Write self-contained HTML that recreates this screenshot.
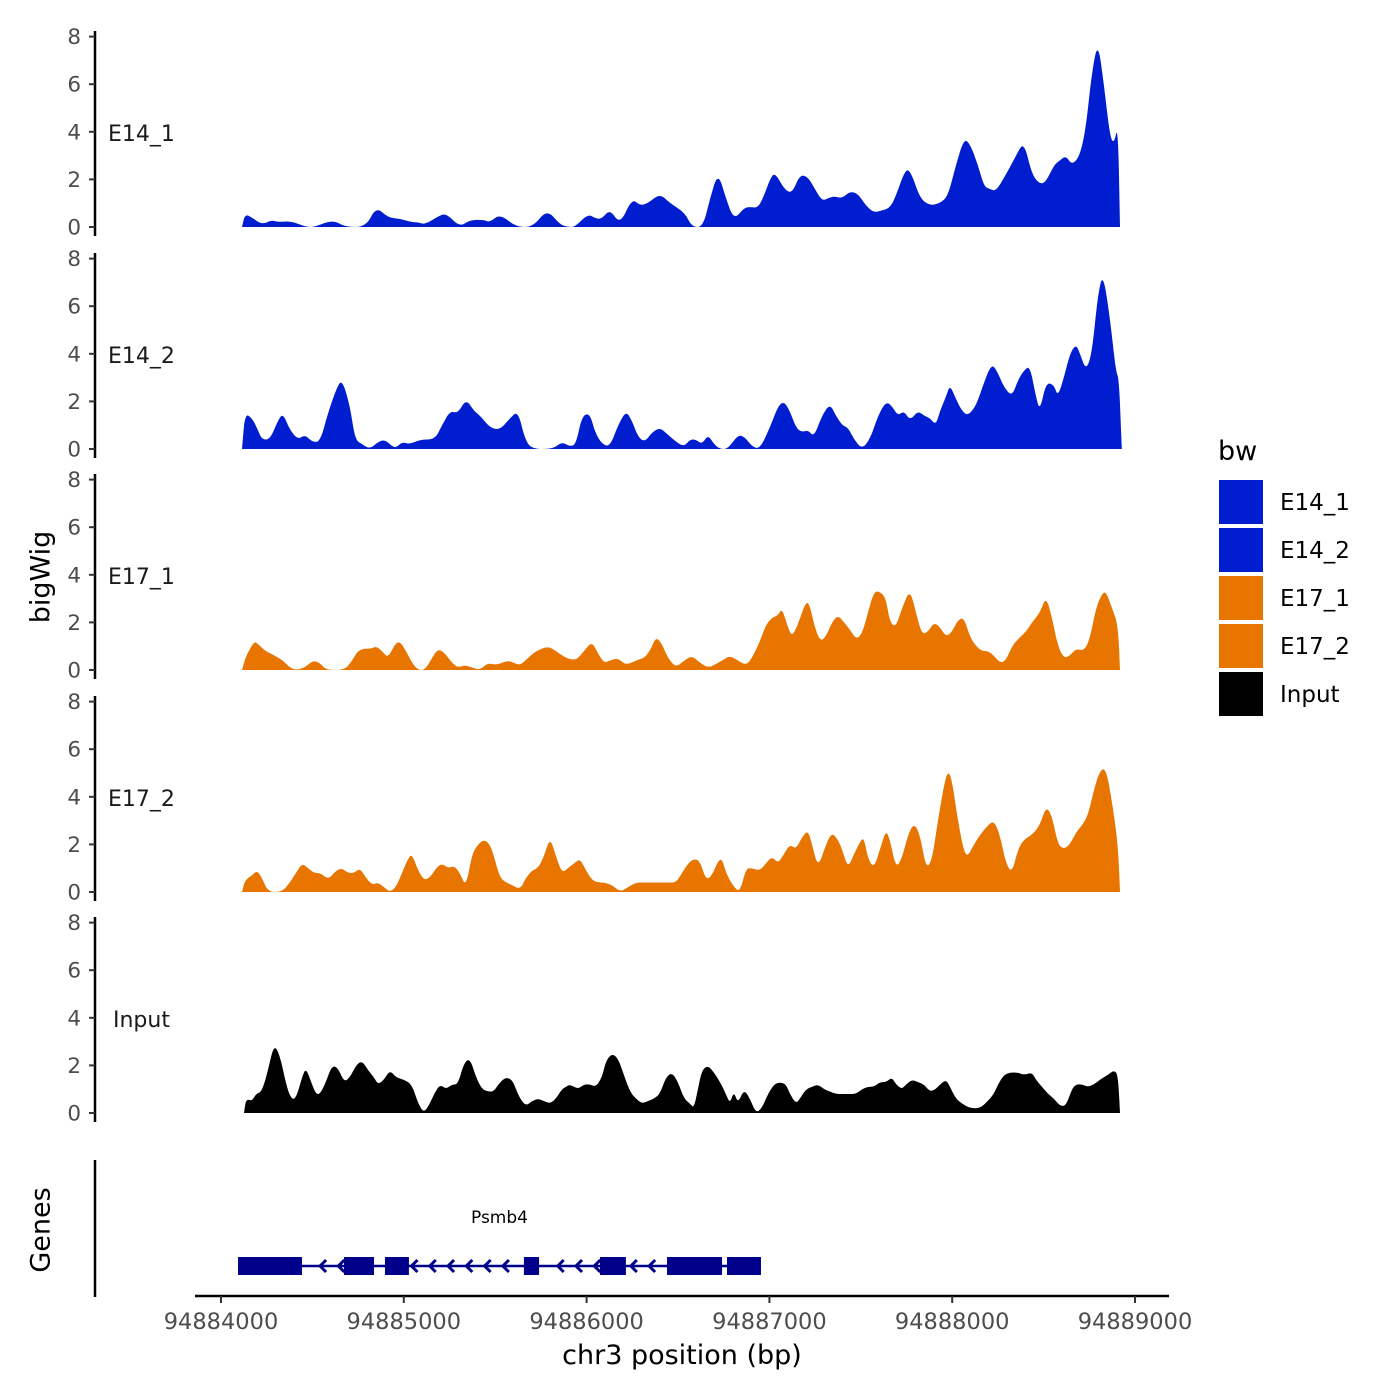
<!DOCTYPE html>
<html><head><meta charset="utf-8"><style>
body{margin:0;background:#fff}
svg{display:block;font-family:"DejaVu Sans","Liberation Sans",sans-serif}
</style></head><body>
<svg id="chart" width="1400" height="1400" viewBox="0 0 1400 1400" xmlns="http://www.w3.org/2000/svg">
<g id="tracks"></g>
<g id="genes"></g>
<g id="xaxis"></g>
<text x="42" y="577" font-size="27" text-anchor="middle" transform="rotate(-90 42 577)" dominant-baseline="middle">bigWig</text>
<text x="42" y="1230" font-size="27" text-anchor="middle" transform="rotate(-90 42 1230)" dominant-baseline="middle">Genes</text>
<text x="682" y="1364" font-size="27" text-anchor="middle">chr3 position (bp)</text>
<g id="legend"></g>
</svg>
<script>
const regionStart = 94884000;
const xTicks = [94884000, 94885000, 94886000, 94887000, 94888000, 94889000];
const yTicks = [0, 2, 4, 6, 8];
const trackNames = ["E14_1", "E14_2", "E17_1", "E17_2", "Input"];
const trackColors = ["#001ECF", "#001ECF", "#E87500", "#E87500", "#000000"];

const e14_1_pos = [115,131,170,224,279,312,377,432,470,509,613,678,793,848,913,979,1045,1078,1116,1198,1236,1307,1362,1439,1471,1526,1614,1707,1783,1854,1898,1936,2007,2051,2084,2128,2183,2248,2292,2336,2401,2456,2538,2576,2637,2675,2719,2762,2806,2861,2894,2937,2970,3003,3030,3080,3123,3167,3211,3249,3287,3320,3353,3397,3441,3484,3528,3572,3616,3659,3692,3747,3780,3824,3878,3933,3977,4020,4064,4097,4141,4174,4206,4239,4294,4349,4392,4436,4480,4513,4557,4589,4622,4655,4699,4732,4764,4797,4830,4863,4885,4907,4918];
const e14_1_val = [0,0.55,0.4,0.1,0.3,0.2,0.25,0.1,0,0,0.3,0,0,0.85,0.4,0.35,0.2,0.2,0.1,0.5,0.55,0,0.3,0.3,0.2,0.55,0,0,0.75,0.1,0,0,0.55,0.35,0.35,0.75,0.1,1.2,0.9,1.0,1.4,1.0,0.6,0,0,1.2,2.3,1.2,0.3,0.8,0.85,0.8,1.3,2.0,2.3,1.6,1.4,2.2,2.1,1.6,1.1,1.2,1.3,1.2,1.5,1.4,0.9,0.6,0.7,0.8,1.3,2.5,2.2,1.2,0.9,1.0,1.3,2.6,3.7,3.5,2.6,1.7,1.6,1.5,2.2,3.0,3.6,2.2,1.8,1.9,2.6,2.8,3.0,2.6,3.0,4.2,6.5,7.8,6.0,3.8,3.5,4.3,0];

const e14_2_pos = [115,131,170,202,224,268,312,339,377,421,459,498,542,585,629,662,706,733,771,815,859,897,952,990,1034,1089,1171,1209,1253,1296,1340,1384,1417,1471,1526,1581,1625,1663,1701,1816,1865,1909,1942,1975,2018,2046,2084,2128,2172,2215,2248,2281,2319,2358,2401,2445,2489,2533,2565,2598,2631,2664,2697,2730,2773,2828,2866,2905,2948,3003,3047,3080,3112,3145,3178,3211,3244,3287,3331,3364,3397,3430,3463,3506,3550,3594,3638,3670,3703,3736,3769,3813,3845,3878,3911,3933,3966,3988,4020,4053,4086,4130,4174,4217,4250,4283,4327,4360,4392,4425,4458,4480,4513,4557,4578,4611,4644,4677,4699,4732,4764,4797,4825,4863,4896,4912,4928];
const e14_2_val = [0,1.5,1.3,0.8,0.4,0.4,1.2,1.5,0.8,0.4,0.6,0.3,0.3,1.5,2.5,2.95,1.8,0.4,0.2,0,0.3,0.4,0,0.3,0.2,0.4,0.4,1.0,1.6,1.5,2.1,1.6,1.4,0.9,0.8,1.3,1.6,0.4,0,0,0.3,0.1,0.2,1.4,1.5,0.7,0.2,0.1,1.0,1.6,1.2,0.5,0.3,0.7,0.9,0.6,0.3,0.1,0.4,0.4,0.2,0.6,0.2,0,0,0.6,0.5,0.1,0,0.9,1.8,2.0,1.6,0.9,0.7,0.8,0.5,1.4,1.9,1.4,1.0,0.9,0.4,0,0.4,1.4,2.0,1.8,1.4,1.6,1.2,1.6,1.4,1.3,1.0,1.6,2.2,2.7,2.1,1.6,1.4,1.8,2.8,3.6,3.2,2.6,2.2,2.9,3.3,3.5,2.2,1.6,2.8,2.7,2.2,3.0,4.0,4.4,4.0,3.3,4.0,6.5,7.4,5.5,3.2,3.0,0];

const e17_1_pos = [115,137,181,202,241,295,339,377,410,459,503,542,574,678,717,749,782,826,848,881,913,952,979,1012,1045,1078,1116,1154,1187,1225,1264,1296,1335,1373,1417,1460,1504,1570,1603,1636,1679,1723,1789,1832,1887,1942,1986,2029,2062,2095,2128,2172,2215,2270,2314,2347,2379,2412,2445,2489,2533,2576,2620,2664,2697,2741,2784,2828,2872,2905,2948,2981,3014,3047,3069,3101,3123,3156,3200,3222,3244,3277,3309,3342,3375,3408,3441,3473,3506,3539,3572,3605,3638,3659,3692,3725,3769,3802,3834,3867,3900,3933,3966,3999,4031,4064,4097,4130,4163,4195,4228,4261,4294,4327,4360,4403,4436,4480,4513,4546,4578,4611,4644,4677,4721,4753,4786,4819,4841,4874,4907,4918];
const e17_1_val = [0,0.6,1.2,1.1,0.8,0.6,0.4,0.1,0,0.1,0.4,0.3,0,0,0.4,0.8,0.9,0.9,1.0,0.8,0.5,1.1,1.2,0.8,0.3,0,0,0.5,0.9,0.7,0.3,0.1,0.2,0.1,0,0.3,0.2,0.4,0.3,0.2,0.5,0.8,1.0,0.8,0.5,0.4,0.8,1.2,0.7,0.3,0.4,0.5,0.2,0.4,0.5,0.8,1.4,1.1,0.5,0.1,0.4,0.6,0.3,0.1,0.2,0.4,0.6,0.4,0.2,0.5,1.2,1.9,2.2,2.3,2.6,1.8,1.4,1.9,2.9,2.7,1.9,1.2,1.4,2.0,2.3,2.0,1.7,1.3,1.5,2.4,3.3,3.3,3.0,2.0,1.8,2.6,3.4,2.4,1.5,1.6,2.0,1.8,1.4,1.6,2.1,2.2,1.4,1.0,0.8,0.8,0.6,0.3,0.4,1.0,1.3,1.6,2.0,2.4,3.1,2.2,1.0,0.5,0.6,0.9,0.8,1.3,2.6,3.2,3.3,2.6,1.9,0];

const e17_2_pos = [115,131,170,197,224,257,334,377,410,443,476,509,542,574,596,629,662,695,728,760,793,826,859,892,924,957,990,1023,1045,1078,1110,1143,1176,1209,1242,1275,1307,1340,1373,1406,1439,1471,1493,1526,1559,1592,1636,1668,1701,1734,1767,1800,1832,1865,1898,1931,1964,1997,2029,2062,2095,2139,2183,2226,2270,2314,2358,2445,2489,2522,2555,2587,2620,2653,2686,2719,2741,2762,2806,2839,2872,2905,2948,2981,3014,3047,3080,3112,3145,3178,3211,3233,3266,3309,3342,3375,3397,3430,3463,3495,3517,3539,3572,3605,3638,3659,3692,3725,3758,3791,3824,3856,3889,3922,3955,3977,3999,4031,4064,4086,4119,4152,4195,4228,4261,4294,4327,4360,4392,4436,4480,4513,4546,4578,4611,4644,4677,4710,4742,4775,4808,4841,4874,4907,4918];
const e17_2_val = [0,0.5,0.7,0.9,0.6,0,0,0.4,0.8,1.2,1.0,0.8,0.8,0.6,0.6,0.9,1.0,0.8,0.8,1.0,0.6,0.3,0.4,0.2,0,0.2,0.8,1.4,1.6,0.9,0.5,0.6,1.0,1.2,1.0,1.1,0.8,0.2,1.6,2.0,2.2,2.0,1.5,0.6,0.4,0.3,0.1,0.6,0.9,1.0,1.5,2.3,1.5,0.8,1.0,1.2,1.4,0.9,0.5,0.4,0.4,0.3,0,0.2,0.4,0.4,0.4,0.4,0.4,0.8,1.2,1.4,1.3,0.5,0.7,1.3,1.4,0.8,0.2,0,1.0,1.0,0.9,1.2,1.5,1.2,1.6,2.0,1.8,2.3,2.6,2.0,1.0,2.0,2.5,2.2,1.8,1.0,1.6,2.1,2.3,1.4,1.0,1.8,2.6,2.2,1.0,1.4,2.4,2.9,2.4,1.0,1.3,3.0,4.5,5.1,4.7,3.0,1.7,1.5,2.0,2.4,2.8,3.0,2.4,1.2,0.8,1.8,2.2,2.4,2.8,3.6,3.2,2.0,1.8,2.0,2.5,2.8,3.2,4.3,5.1,5.2,3.8,2.0,0];

const input_pos = [126,137,170,191,224,257,290,323,356,383,410,443,465,498,520,542,574,607,640,673,706,738,771,804,837,859,892,924,957,1001,1045,1078,1110,1143,1165,1198,1231,1264,1296,1329,1362,1395,1428,1460,1493,1526,1559,1592,1614,1636,1668,1701,1734,1767,1800,1832,1865,1887,1909,1953,1986,2018,2051,2084,2106,2139,2172,2204,2237,2270,2303,2336,2369,2401,2434,2467,2500,2533,2565,2587,2609,2631,2664,2697,2730,2762,2784,2806,2828,2861,2894,2926,2959,2992,3025,3058,3091,3112,3145,3167,3200,3233,3266,3298,3331,3364,3397,3430,3473,3506,3539,3572,3605,3638,3670,3692,3725,3747,3780,3813,3845,3878,3911,3933,3966,3988,4020,4053,4097,4152,4195,4228,4250,4283,4316,4360,4392,4436,4458,4491,4524,4557,4589,4622,4655,4677,4710,4742,4775,4808,4852,4885,4907,4918];
const input_val = [0,0.6,0.5,0.8,0.9,1.8,2.9,2.4,1.2,0.6,0.6,1.5,1.9,1.2,0.8,0.8,1.3,2.0,1.9,1.3,1.5,2.0,2.2,1.8,1.5,1.2,1.4,1.8,1.5,1.4,1.2,0.4,0,0.4,0.8,1.2,1.0,1.2,1.2,2.1,2.3,1.5,1.0,0.9,0.9,1.3,1.5,1.4,1.0,0.6,0.3,0.5,0.6,0.5,0.4,0.6,1.0,1.1,1.2,1.0,1.2,1.2,1.1,1.5,2.2,2.5,2.3,1.6,0.9,0.6,0.4,0.5,0.6,0.8,1.5,1.7,1.3,0.6,0.4,0.2,1.0,1.8,2.0,1.7,1.3,0.8,0.4,0.9,0.4,1.0,0.6,0,0.2,0.8,1.2,1.3,1.2,0.8,0.4,0.6,1.0,1.1,1.2,1.0,0.9,0.8,0.8,0.8,0.8,1.0,1.1,1.1,1.3,1.3,1.5,1.2,1.0,1.2,1.4,1.3,1.2,0.9,1.0,1.2,1.4,1.1,0.6,0.4,0.2,0.2,0.5,0.8,1.2,1.6,1.7,1.7,1.6,1.7,1.4,1.1,0.8,0.6,0.3,0.3,1.0,1.2,1.2,1.1,1.2,1.4,1.6,1.8,1.6,0];

const trackPos = [e14_1_pos, e14_2_pos, e17_1_pos, e17_2_pos, input_pos];
const trackVal = [e14_1_val, e14_2_val, e17_1_val, e17_2_val, input_val];

const geneName = "Psmb4";
const exonStarts = [93, 673, 897, 1657, 2073, 2440, 2768];
const exonEnds = [443, 837, 1028, 1740, 2215, 2741, 2954];
const geneStart = 93, geneEnd = 2954;

const NS = "http://www.w3.org/2000/svg";
const X0 = 221, PXKB = 182.8;
function xScale(bpOff){ return X0 + bpOff * PXKB / 1000; }
const trackZero = [227, 449, 670, 892, 1113];
const UNIT = 23.8;
function yScale(t, v){ return trackZero[t] - v * UNIT; }
function mk(tag, attrs, parent){ const e=document.createElementNS(NS,tag); for(const k in attrs) e.setAttribute(k,attrs[k]); parent.appendChild(e); return e; }

const tracksG = document.getElementById('tracks');
for (let t=0;t<5;t++){
  const g = mk('g',{},tracksG);
  
  
  const ax = mk('line',{x1:95,x2:95,y1:trackZero[t]-196,y2:trackZero[t]+9,stroke:'#000','stroke-width':2.5},g);
  
  
  yTicks.forEach(v=>{
    const y=yScale(t,v);
    const tk=mk('line',{x1:89,x2:95,y1:y,y2:y,stroke:'#333','stroke-width':2},g);
    
    
    const tl=mk('text',{x:81,y:y+7.5,'font-size':21.5,'text-anchor':'end',fill:'#4d4d4d'},g);
    tl.textContent=v;
    
    
  });
  const lab=mk('text',{x:trackNames[t]==='Input'?113:108,y:yScale(t,4)+9,'font-size':22,fill:'#1a1a1a'},g);
  lab.textContent=trackNames[t];
  
  
  const P=trackPos[t], V=trackVal[t];
  const pts=P.map((p,i)=>[xScale(p), yScale(t,V[i])]);
  let d='M'+pts[0][0].toFixed(1)+','+trackZero[t]+' L'+pts[0][0].toFixed(1)+','+pts[0][1].toFixed(1);
  for(let i=0;i<pts.length-2;i++){
    const mx=(pts[i][0]+pts[i+1][0])/2, my=(pts[i][1]+pts[i+1][1])/2;
    d+=' L'+mx.toFixed(1)+','+my.toFixed(1);
    const nx=(pts[i+1][0]+pts[i+2][0])/2, ny=(pts[i+1][1]+pts[i+2][1])/2;
    d+=' Q'+pts[i+1][0].toFixed(1)+','+pts[i+1][1].toFixed(1)+' '+nx.toFixed(1)+','+ny.toFixed(1);
  }
  const last=pts[pts.length-1], prev=pts[pts.length-2];
  d+=' L'+prev[0].toFixed(1)+','+prev[1].toFixed(1)+' L'+last[0].toFixed(1)+','+last[1].toFixed(1)+' L'+last[0].toFixed(1)+','+trackZero[t]+' Z';
  const area=mk('path',{d:d,fill:trackColors[t]},g);
  
  
}

const gg=document.getElementById('genes');
const gax=mk('line',{x1:95,x2:95,y1:1160,y2:1297,stroke:'#000','stroke-width':2.5},gg);


const gl=mk('line',{x1:xScale(geneStart),x2:xScale(geneEnd),y1:1266,y2:1266,stroke:'#00008B','stroke-width':2.5},gg);


for(let b=geneStart+60;b<geneEnd;b+=100){
  const x=xScale(b);
  const inExon=exonStarts.some((s,i)=>b>s-20&&b<exonEnds[i]+20);
  if(inExon) continue;
  const ch=mk('path',{d:`M${x+4},1260 L${x-2},1266 L${x+4},1272`,stroke:'#00008B','stroke-width':3,fill:'none'},gg);
  
  
}
for(let i=0;i<exonStarts.length;i++){
  const r=mk('rect',{x:xScale(exonStarts[i]),y:1257,width:xScale(exonEnds[i])-xScale(exonStarts[i]),height:18,fill:'#00008B'},gg);
  
  
}
const gn=mk('text',{x:xScale((geneStart+geneEnd)/2),y:1223,'font-size':17,'text-anchor':'middle',fill:'#000'},gg);
gn.textContent=geneName;



const xa=document.getElementById('xaxis');
const xl=mk('line',{x1:195,x2:1169,y1:1296,y2:1296,stroke:'#000','stroke-width':2.5},xa);


xTicks.forEach(b=>{
  const x=xScale(b-regionStart);
  const tk=mk('line',{x1:x,x2:x,y1:1296,y2:1303,stroke:'#333','stroke-width':2},xa);
  
  
  const tl=mk('text',{x:x,y:1329,'font-size':22.5,'text-anchor':'middle',fill:'#4d4d4d'},xa);
  tl.textContent=b;
  
  
});

const lg=document.getElementById('legend');
const lt=mk('text',{x:1218,y:460,'font-size':27,fill:'#000'},lg);
lt.textContent='bw';


trackNames.forEach((n,i)=>{
  const y=480+i*48;
  const sw=mk('rect',{x:1219,y:y,width:44,height:44,fill:trackColors[i]},lg);
  
  
  const tx=mk('text',{x:1280,y:y+30,'font-size':23,fill:'#000'},lg);
  tx.textContent=n;
  
  
});
</script>
</body></html>
